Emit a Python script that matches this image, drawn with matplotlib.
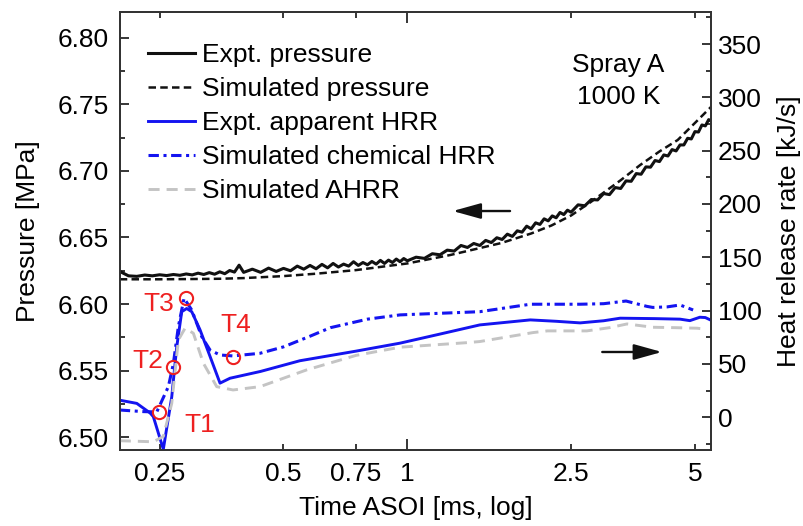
import matplotlib

matplotlib.use("Agg")
import matplotlib.pyplot as plt
from matplotlib.ticker import FixedLocator, FixedFormatter

# ---- data ----
# measured pressure (noisy trace), time in ms ASOI
t_p_expt = [0.20, 0.21, 0.22, 0.23, 0.24, 0.25, 0.26, 0.27, 0.28, 0.29, 0.30,
            0.31, 0.32, 0.33, 0.34, 0.35, 0.36, 0.37, 0.38, 0.39, 0.40,
            0.42, 0.44, 0.46, 0.48, 0.50, 0.52, 0.54, 0.56, 0.58, 0.60,
            0.62, 0.64, 0.66, 0.68, 0.70, 0.72, 0.74, 0.76, 0.78, 0.80,
            0.82, 0.84, 0.86, 0.88, 0.90, 0.92, 0.94, 0.96, 0.98, 1.00,
            1.05, 1.10, 1.15, 1.20, 1.25, 1.30, 1.35, 1.40, 1.45, 1.50,
            1.55, 1.60, 1.65, 1.70, 1.75, 1.80, 1.85, 1.90, 1.95, 2.00,
            2.05, 2.10, 2.15, 2.20, 2.25, 2.30, 2.35, 2.40, 2.45, 2.50,
            2.6, 2.7, 2.8, 2.9, 3.0, 3.1, 3.2, 3.3, 3.4, 3.5,
            3.6, 3.7, 3.8, 3.9, 4.0, 4.1, 4.2, 4.3, 4.4, 4.5,
            4.6, 4.7, 4.8, 4.9, 5.0, 5.1, 5.2, 5.3, 5.4, 5.47]
p_expt = [6.6245, 6.6212, 6.6208, 6.6218, 6.6212, 6.6220, 6.6214, 6.6222, 6.6216, 6.6226, 6.6219,
          6.6232, 6.6222, 6.6236, 6.6224, 6.6242, 6.6228, 6.6252, 6.6240, 6.6292, 6.6238,
          6.6262, 6.6238, 6.6270, 6.6245, 6.6268, 6.6250, 6.6285, 6.6262, 6.6290, 6.6265,
          6.6298, 6.6272, 6.6305, 6.6278, 6.6300, 6.6285, 6.6318, 6.6290, 6.6312, 6.6295,
          6.6320, 6.6300, 6.6328, 6.6305, 6.6330, 6.6312, 6.6338, 6.6318, 6.6342, 6.6325,
          6.6352, 6.6343, 6.6378, 6.6370, 6.6405, 6.6398, 6.6440, 6.6425, 6.6455, 6.6440,
          6.6478, 6.6462, 6.6498, 6.6485, 6.6525, 6.6508, 6.6550, 6.6540, 6.6585, 6.6565,
          6.6610, 6.6598, 6.6640, 6.6625, 6.6662, 6.6648, 6.6688, 6.6672, 6.6705, 6.6690,
          6.6745, 6.6738, 6.6785, 6.6782, 6.6830, 6.6822, 6.6875, 6.6868, 6.6925, 6.6922,
          6.6980, 6.6975, 6.7030, 6.7028, 6.7078, 6.7070, 6.7120, 6.7112, 6.7160, 6.7150,
          6.7195, 6.7195, 6.7245, 6.7240, 6.7295, 6.7292, 6.7345, 6.7338, 6.7385, 6.7375]

t_p_sim = [0.20, 0.25, 0.30, 0.35, 0.40, 0.50, 0.60, 0.75, 1.0, 1.27, 1.69,
           2.0, 2.24, 2.5, 2.79, 3.3, 3.68, 4.1, 4.54, 5.0, 5.47]
p_sim = [6.6186, 6.6186, 6.6188, 6.6190, 6.6195, 6.6210, 6.6228, 6.6255, 6.6305, 6.6368, 6.6458,
         6.6530, 6.6590, 6.6665, 6.6766, 6.6930, 6.7044, 6.7146, 6.7232, 6.7360, 6.7480]

# heat release rates [kJ/s]
t_hrr_expt = [0.200, 0.220, 0.237, 0.2413, 0.2552, 0.2675, 0.2751, 0.2829, 0.2909, 0.2992,
              0.3134, 0.3315, 0.3505, 0.3707, 0.44, 0.548, 0.75, 0.96, 1.20, 1.50,
              1.99, 2.30, 2.63, 3.00, 3.29, 4.00, 4.60, 4.86, 5.14, 5.30, 5.47]
hrr_expt = [16, 13, 4, 0.6, -30, 19, 66, 99, 102, 99,
            82, 57, 32, 36.6, 43, 53, 62, 69.5, 78, 86.6,
            91.3, 90, 88.5, 90.5, 92.9, 92.5, 92, 90.6, 93.8, 93.5, 91]

t_hrr_chem = [0.200, 0.228, 0.246, 0.2625, 0.2699, 0.2776, 0.2866, 0.2992, 0.3164, 0.3315,
              0.3505, 0.377, 0.4385, 0.50, 0.58, 0.65, 0.80, 0.96, 1.20, 1.50,
              1.99, 2.63, 3.00, 3.40, 3.82, 3.95, 4.28, 4.60, 4.95]
hrr_chem = [6.8, 5.3, 5, 28.7, 50, 85, 111.6, 100.6, 75.6, 63,
            58.4, 57.5, 60, 66, 76, 84, 92, 96, 97.5, 99,
            106, 106, 106.5, 109, 104, 103, 103.5, 105.3, 100.6]

t_hrr_ahrr = [0.200, 0.2413, 0.2552, 0.2675, 0.2776, 0.2882, 0.3019, 0.3193, 0.3441, 0.377,
              0.4385, 0.569, 0.75, 0.96, 1.40, 1.50, 2.02, 2.19, 2.73, 3.10,
              3.42, 3.95, 4.50, 5.06, 5.20]
hrr_ahrr = [-22, -23, -18, 13, 72.5, 83.5, 78.8, 50.7, 28.7, 25.6,
            28.7, 44.4, 58, 65.7, 70, 71, 79.4, 81, 81, 84,
            87.5, 84.4, 84, 83.5, 83]

# marked instants
t_marks = [0.2496, 0.2692, 0.2898, 0.3775]
hrr_marks = [5.3, 47.5, 111.6, 56.8]
mark_labels = ["T1", "T2", "T3", "T4"]
mark_offsets = [(29, -10), (-18, 4), (-20, -4), (2, 23)]

x_ticks = [0.25, 0.5, 0.75, 1, 2.5, 5]
x_ticklabels = ["0.25", "0.5", "0.75", "1", "2.5", "5"]

BLUE = "#1414f0"
GRAY = "#c4c4c4"
RED = "#ee2020"
INK = "#111111"

plt.rcParams.update({
    "font.family": ["Liberation Sans", "DejaVu Sans"],
    "font.size": 19,
    "axes.linewidth": 1.3,
    "axes.edgecolor": "#333333",
})

fig = plt.figure(figsize=(8.04, 5.26), dpi=100)
ax = fig.add_axes([0.1493, 0.1445, 0.7350, 0.8336])
ax2 = ax.twinx()

l1, = ax.plot(t_p_expt, p_expt, color=INK, lw=2.2, label="Expt. pressure")
l2, = ax.plot(t_p_sim, p_sim, color=INK, lw=1.8, dashes=(3.0, 1.7), label="Simulated pressure")

l3, = ax2.plot(t_hrr_expt, hrr_expt, color=BLUE, lw=2.1, label="Expt. apparent HRR")
l4, = ax2.plot(t_hrr_chem, hrr_chem, color=BLUE, lw=2.2, dashes=(3.4, 1.5, 1.0, 1.5),
               label="Simulated chemical HRR")
l5, = ax2.plot(t_hrr_ahrr, hrr_ahrr, color=GRAY, lw=2.1, dashes=(3.8, 2.4), label="Simulated AHRR")

ax2.plot(t_marks, hrr_marks, ls="none", marker="o", ms=9.5, mfc="none", mec=RED, mew=1.5)
for t, h, lab, off in zip(t_marks, hrr_marks, mark_labels, mark_offsets):
    ax2.annotate(lab, (t, h), xytext=off, textcoords="offset points",
                 ha="center", va="center", color=RED, fontsize=19)

ax.set_xscale("log")
ax.set_xlim(0.2003, 5.47)
ax.set_ylim(6.4904, 6.8197)
ax2.set_ylim(-30.7, 380.5)

# x ticks: only "1" is a long (major) tick
ax.xaxis.set_major_locator(FixedLocator([1]))
ax.xaxis.set_major_formatter(FixedFormatter(["1"]))
ax.xaxis.set_minor_locator(FixedLocator([v for v in x_ticks if v != 1]))
ax.xaxis.set_minor_formatter(FixedFormatter([s for v, s in zip(x_ticks, x_ticklabels) if v != 1]))

ax.set_yticks([6.50, 6.55, 6.60, 6.65, 6.70, 6.75, 6.80])
ax.set_yticklabels(["6.50", "6.55", "6.60", "6.65", "6.70", "6.75", "6.80"])
ax.set_yticks([6.525, 6.575, 6.625, 6.675, 6.725, 6.775], minor=True)
ax2.set_yticks([0, 50, 100, 150, 200, 250, 300, 350])
ax2.set_yticks([-25, 25, 75, 125, 175, 225, 275, 325, 375], minor=True)

ax.tick_params(axis="x", which="both", direction="in", top=True, width=1.1, pad=9, labelsize=19)
ax.tick_params(axis="x", which="major", length=8)
ax.tick_params(axis="x", which="minor", length=4.5)
ax.tick_params(axis="y", which="both", direction="in", width=1.1, pad=8, labelsize=19)
ax.tick_params(axis="y", which="major", length=6.5)
ax.tick_params(axis="y", which="minor", length=3.5)
ax2.tick_params(axis="y", which="both", direction="in", width=1.1, pad=5, labelsize=19)
ax2.tick_params(axis="y", which="major", length=6.5)
ax2.tick_params(axis="y", which="minor", length=3.5)

ax.set_xlabel("Time ASOI [ms, log]", labelpad=7)
ax.set_ylabel("Pressure [MPa]", labelpad=13)
ax2.set_ylabel("Heat release rate [kJ/s]", labelpad=11)

ax2.text(0.843, 0.878, "Spray A", transform=ax.transAxes, ha="center", va="center", fontsize=19)
ax2.text(0.843, 0.805, "1000 K", transform=ax.transAxes, ha="center", va="center", fontsize=19)

arrow_kw = dict(arrowstyle="-|>,head_length=0.9,head_width=0.25", color=INK, lw=1.7, shrinkA=0, shrinkB=0)
ax2.annotate("", xy=(0.563, 0.545), xytext=(0.660, 0.545), xycoords="axes fraction",
             textcoords="axes fraction", arrowprops=arrow_kw)
ax2.annotate("", xy=(0.917, 0.2235), xytext=(0.816, 0.2235), xycoords="axes fraction",
             textcoords="axes fraction", arrowprops=arrow_kw)

ax2.legend(handles=[l1, l2, l3, l4, l5], loc="upper left", bbox_to_anchor=(0.047, 0.928),
           frameon=False, borderpad=0, borderaxespad=0, handlelength=1.8,
           handletextpad=0.25, labelspacing=0.38, fontsize=19)

fig.savefig("out.png", dpi=100)
